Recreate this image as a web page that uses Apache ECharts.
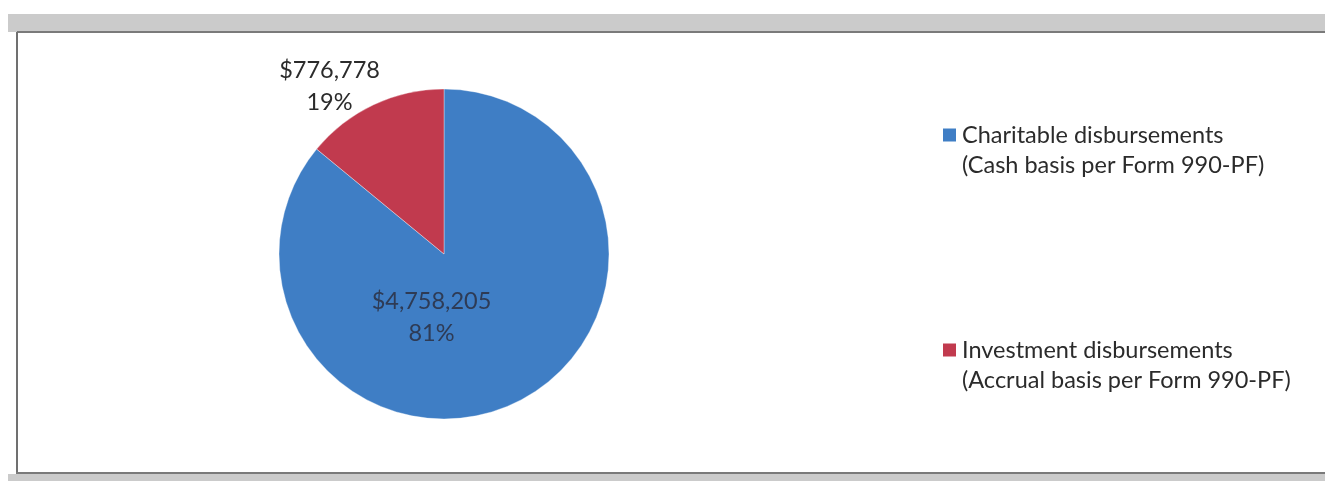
<!DOCTYPE html>
<html>
<head>
<meta charset="utf-8">
<script src="https://cdn.jsdelivr.net/npm/echarts@6/dist/echarts.min.js"></script>
<style>
  html, body { margin: 0; padding: 0; background: #fff; }
  #chart { width: 1325px; height: 481px; }
</style>
</head>
<body>
<div id="chart"></div>
<script>
// --- Data ---
const categories = ["Charitable disbursements", "Investment disbursements"];
const categoryNotes = ["(Cash basis per Form 990-PF)", "(Accrual basis per Form 990-PF)"];
const values = [4758205, 776778];
const valueLabels = ["$4,758,205", "$776,778"];
const percentLabels = ["81%", "19%"];

// --- Styling ---
const colors = ["#3f7ec5", "#c13a4e"];
const font = "Lato, 'Open Sans', sans-serif";
const legendTops = [118, 333];

const chart = echarts.init(document.getElementById("chart"), null, { renderer: "canvas" });

// Legend: colour box sits inline with the first text line, note on the second line
function legendFor(i) {
  return {
    data: [categories[i]],
    left: 933,
    top: legendTops[i],
    icon: "none",
    itemWidth: 0,
    itemHeight: 0,
    selectedMode: false,
    formatter: (name) => `{box|}{gap|}{t|${name}}\n{indent|}{t|${categoryNotes[i]}}`,
    textStyle: {
      fontFamily: font,
      fontSize: 23.5,
      color: "#2b2b2b",
      rich: {
        box: { width: 13, height: 13, backgroundColor: colors[i] },
        gap: { width: 6 },
        indent: { width: 19 },
        t: { fontFamily: font, fontSize: 23.5, lineHeight: 30, color: "#2b2b2b" }
      }
    }
  };
}

chart.setOption({
  animation: false,
  color: colors,
  graphic: [
    // window frame around the chart
    { type: "rect", shape: { x: 8, y: 14, width: 1317, height: 18 }, style: { fill: "#cbcbcb" }, silent: true },
    { type: "rect", shape: { x: 17, y: 31, width: 1308, height: 2 }, style: { fill: "#7a7a7a" }, silent: true },
    { type: "rect", shape: { x: 16, y: 32, width: 2, height: 442 }, style: { fill: "#707070" }, silent: true },
    { type: "rect", shape: { x: 16, y: 472, width: 1309, height: 2 }, style: { fill: "#7a7a7a" }, silent: true },
    { type: "rect", shape: { x: 8, y: 474, width: 1317, height: 7 }, style: { fill: "#cbcbcb" }, silent: true }
  ],
  legend: [legendFor(0), legendFor(1)],
  series: [
    {
      type: "pie",
      center: [444, 254],
      radius: [0, 165],
      startAngle: 90,
      clockwise: true,
      silent: true,
      labelLine: { show: false },
      itemStyle: { borderColor: "rgba(255,255,255,0.35)", borderWidth: 1 },
      data: categories.map((name, i) => ({
        name,
        value: values[i],
        label: {
          show: true,
          position: "inside",
          offset: i === 0 ? [-49, -14] : [-78, -90],
          formatter: valueLabels[i] + "\n" + percentLabels[i],
          fontFamily: font,
          fontSize: 23.5,
          lineHeight: 32,
          color: i === 0 ? "#2e3b55" : "#2b2b2b",
          align: "center"
        }
      }))
    }
  ]
});
</script>
</body>
</html>
